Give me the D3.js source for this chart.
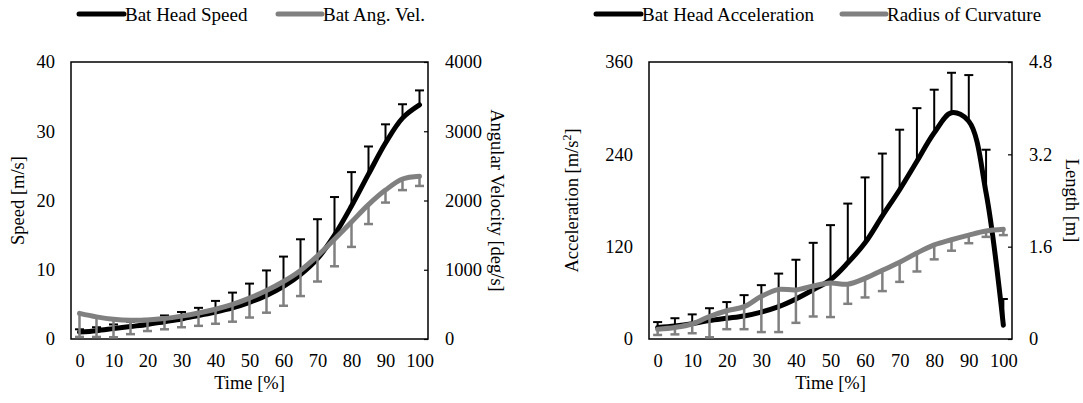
<!DOCTYPE html>
<html>
<head>
<meta charset="utf-8">
<script src="https://cdn.jsdelivr.net/npm/d3@7"></script>
<style>
  body { margin: 0; background: #fff; }
  #chart { width: 1083px; height: 403px; }
</style>
</head>
<body>
<div id="chart"></div>
<script>
// time axis (% of swing)
const timePct = [0, 5, 10, 15, 20, 25, 30, 35, 40, 45, 50, 55, 60, 65, 70, 75, 80, 85, 90, 95, 100];
const xTickValues = [0, 10, 20, 30, 40, 50, 60, 70, 80, 90, 100];
const xTickLabels = ["0", "10", "20", "30", "40", "50", "60", "70", "80", "90", "100"];

// left panel: speed (m/s) and angular velocity (deg/s)
const batHeadSpeed   = [1.0, 1.2, 1.5, 1.8, 2.1, 2.5, 2.9, 3.4, 3.9, 4.5, 5.3, 6.3, 7.6, 9.3, 11.6, 15.0, 19.2, 23.8, 28.3, 31.9, 33.8];
const batHeadSpeedSD = [0.4, 0.5, 0.6, 0.7, 0.8, 0.9, 1.0, 1.1, 1.6, 2.2, 2.7, 3.6, 4.3, 5.1, 5.7, 5.5, 4.9, 4.0, 2.7, 2.0, 2.1];
const batAngVel      = [370, 320, 285, 270, 275, 295, 330, 375, 430, 500, 590, 700, 830, 990, 1200, 1440, 1690, 1940, 2150, 2310, 2350];
const batAngVelSD    = [340, 290, 260, 200, 160, 155, 160, 185, 210, 250, 280, 320, 350, 370, 370, 390, 360, 280, 180, 160, 140];

// right panel: acceleration (m/s^2) and radius of curvature (m)
const batHeadAcc     = [15, 17, 20, 24, 27, 30, 35, 42, 52, 64, 77, 99, 125, 160, 194, 231, 268, 294, 283, 190, 18];
const batHeadAccSD   = [7, 10, 12, 16, 21, 27, 35, 43, 51, 61, 71, 77, 85, 81, 78, 69, 56, 52, 60, 56, 34];
const radiusCurv     = [0.17, 0.20, 0.26, 0.39, 0.49, 0.56, 0.74, 0.86, 0.85, 0.92, 0.97, 0.95, 1.05, 1.19, 1.33, 1.49, 1.63, 1.72, 1.80, 1.87, 1.90];
const radiusCurvSD   = [0.10, 0.12, 0.16, 0.36, 0.32, 0.39, 0.62, 0.74, 0.57, 0.53, 0.59, 0.34, 0.33, 0.36, 0.34, 0.32, 0.25, 0.19, 0.14, 0.10, 0.10];

// axis ticks
const speedTicks  = [0, 10, 20, 30, 40];
const angVelTicks = [0, 1000, 2000, 3000, 4000];
const accTicks    = [0, 120, 240, 360];
const lengthTicks = [0, 1.6, 3.2, 4.8];

const BLACK = "#000000";
const GRAY = "#808080";
const FONT = 18.5;
const SERIF = '"Liberation Serif", "Times New Roman", Times, "DejaVu Serif", serif';

const svg = d3.select("#chart")
  .append("svg")
  .attr("width", 1083)
  .attr("height", 403)
  .style("font-family", SERIF);

function drawPanel(opt) {
  const g = svg.append("g");

  const x = d3.scalePoint()
    .domain(timePct)
    .range([opt.left, opt.right])
    .padding(0.5);

  const yL = d3.scaleLinear()
    .domain([0, d3.max(opt.leftTicks)])
    .range([opt.bottom, opt.top]);

  const yR = d3.scaleLinear()
    .domain([0, d3.max(opt.rightTicks)])
    .range([opt.bottom, opt.top]);

  // 左轴
  const axL = g.append("g")
    .attr("transform", `translate(${opt.left},0)`)
    .call(d3.axisLeft(yL).tickValues(opt.leftTicks).tickSize(0).tickPadding(16)
      .tickFormat(d => String(d)));
  axL.select(".domain").remove();

  // 右轴 (短刻度朝内)
  const axR = g.append("g")
    .attr("transform", `translate(${opt.right},0)`)
    .call(d3.axisRight(yR).tickValues(opt.rightTicks).tickSizeInner(-4).tickSizeOuter(0).tickPadding(17)
      .tickFormat(d => String(d)));
  axR.select(".domain").remove();
  axR.selectAll("line").attr("stroke", BLACK).attr("stroke-width", 1.2);

  // x轴
  const axX = g.append("g")
    .attr("transform", `translate(0,${opt.bottom})`)
    .call(d3.axisBottom(x).tickValues(xTickValues).tickSize(0).tickPadding(15)
      .tickFormat((d, i) => xTickLabels[i]));
  axX.select(".domain").remove();

  [axL, axR, axX].forEach(a => {
    a.attr("font-family", SERIF).attr("font-size", FONT);
    a.selectAll("text").style("font-family", SERIF).attr("fill", BLACK);
  });

  // 边框
  g.append("rect")
    .attr("x", opt.left)
    .attr("y", opt.top)
    .attr("width", opt.right - opt.left)
    .attr("height", opt.bottom - opt.top)
    .attr("fill", "none")
    .attr("stroke", BLACK)
    .attr("stroke-width", 1.5);

  // 轴标题
  g.append("text")
    .attr("x", (opt.left + opt.right) / 2)
    .attr("y", 389)
    .attr("text-anchor", "middle")
    .style("font-family", SERIF)
    .style("font-size", `${FONT}px`)
    .text("Time [%]");

  const midY = (opt.top + opt.bottom) / 2;
  const lt = g.append("text")
    .attr("transform", `translate(${opt.leftTitleX},${midY}) rotate(-90)`)
    .attr("text-anchor", "middle")
    .attr("dy", "0.35em")
    .style("font-family", SERIF)
    .style("font-size", `${FONT}px`);
  opt.leftTitle(lt);

  g.append("text")
    .attr("transform", `translate(${opt.rightTitleX},${midY}) rotate(90)`)
    .attr("text-anchor", "middle")
    .attr("dy", "0.35em")
    .style("font-family", SERIF)
    .style("font-size", `${FONT}px`)
    .text(opt.rightTitle);

  const line = y => d3.line()
    .x((d, i) => x(timePct[i]))
    .y(d => y(d))
    .curve(d3.curveCatmullRom.alpha(0.5));

  // 误差线: dir = +1 向上, -1 向下
  function errorBars(values, sds, y, color, dir, width) {
    const eb = g.append("g").attr("stroke", color).attr("stroke-width", width);
    values.forEach((v, i) => {
      const cx = x(timePct[i]);
      const end = y(v + dir * sds[i]);
      eb.append("line")
        .attr("x1", cx).attr("x2", cx)
        .attr("y1", y(v)).attr("y2", end);
      eb.append("line")
        .attr("x1", cx - 4.5).attr("x2", cx + 4.5)
        .attr("y1", end).attr("y2", end);
    });
  }

  errorBars(opt.blackValues, opt.blackSD, yL, BLACK, 1, 2);
  g.append("path")
    .datum(opt.blackValues)
    .attr("fill", "none")
    .attr("stroke", BLACK)
    .attr("stroke-width", 5)
    .attr("stroke-linecap", "round")
    .attr("d", line(yL));

  errorBars(opt.grayValues, opt.graySD, yR, GRAY, -1, 2.5);
  g.append("path")
    .datum(opt.grayValues)
    .attr("fill", "none")
    .attr("stroke", GRAY)
    .attr("stroke-width", 5)
    .attr("stroke-linecap", "round")
    .attr("d", line(yR));

  // 图例
  const legend = g.selectAll(".legend")
    .data(opt.legend)
    .enter().append("g")
    .attr("class", "legend");

  legend.append("line")
    .attr("x1", d => d.x1)
    .attr("x2", d => d.x2)
    .attr("y1", 14)
    .attr("y2", 14)
    .attr("stroke", d => d.color)
    .attr("stroke-width", 5)
    .attr("stroke-linecap", "round");

  legend.append("text")
    .attr("x", d => d.x2 + 1)
    .attr("y", 14)
    .attr("dy", "0.35em")
    .style("font-family", SERIF)
    .style("font-size", "19px")
    .text(d => d.label);
}

drawPanel({
  left: 71, right: 428, top: 62, bottom: 339,
  leftTicks: speedTicks, rightTicks: angVelTicks,
  leftTitleX: 18, rightTitleX: 497,
  leftTitle: t => t.text("Speed [m/s]"),
  rightTitle: "Angular Velocity [deg/s]",
  blackValues: batHeadSpeed, blackSD: batHeadSpeedSD,
  grayValues: batAngVel, graySD: batAngVelSD,
  legend: [
    { label: "Bat Head Speed", color: BLACK, x1: 79, x2: 124 },
    { label: "Bat Ang. Vel.", color: GRAY, x1: 278, x2: 322 }
  ]
});

drawPanel({
  left: 649, right: 1012, top: 62, bottom: 339,
  leftTicks: accTicks, rightTicks: lengthTicks,
  leftTitleX: 572, rightTitleX: 1072,
  leftTitle: t => {
    t.append("tspan").text("Acceleration [m/s");
    t.append("tspan").attr("baseline-shift", "super").style("font-size", "12px").text("2");
    t.append("tspan").text("]");
  },
  rightTitle: "Length [m]",
  blackValues: batHeadAcc, blackSD: batHeadAccSD,
  grayValues: radiusCurv, graySD: radiusCurvSD,
  legend: [
    { label: "Bat Head Acceleration", color: BLACK, x1: 596, x2: 641 },
    { label: "Radius of Curvature", color: GRAY, x1: 842, x2: 886 }
  ]
});
</script>
</body>
</html>
